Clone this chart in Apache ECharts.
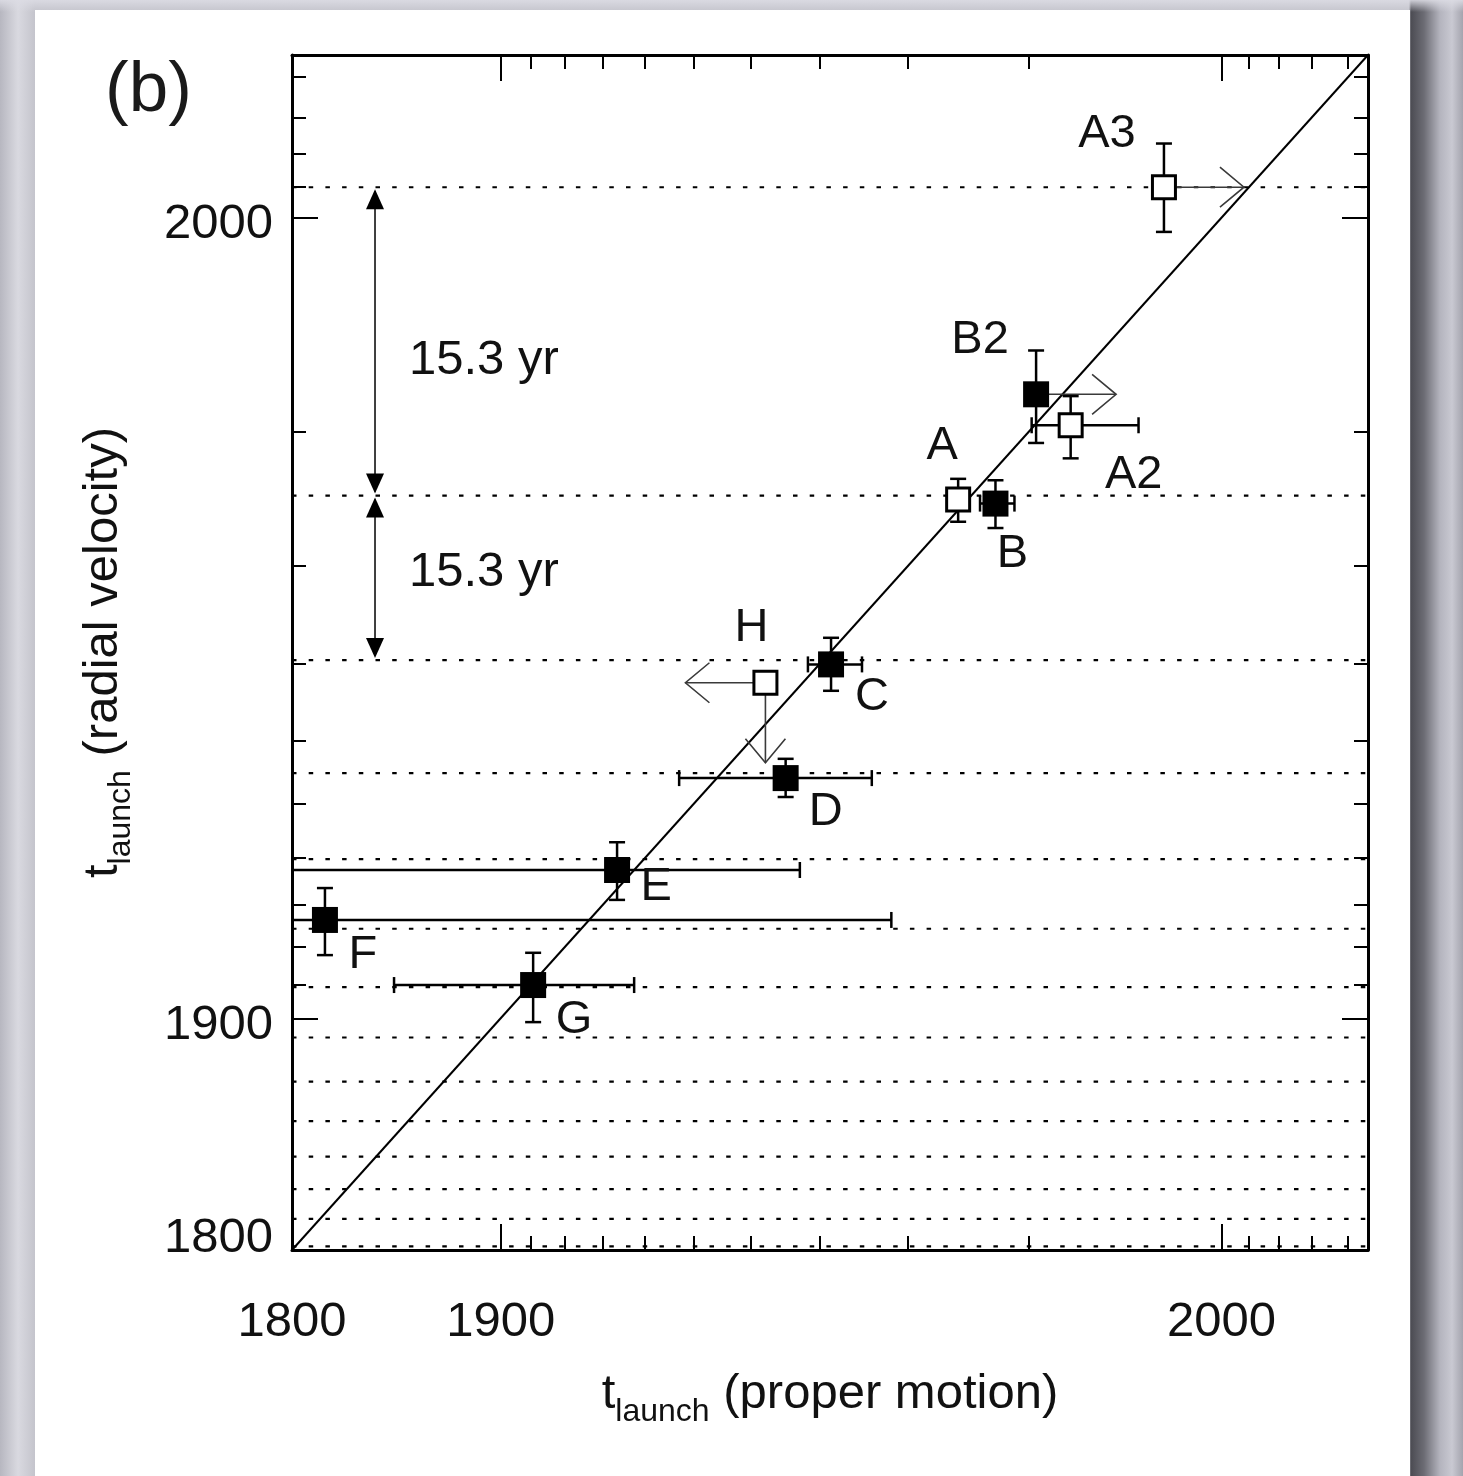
<!DOCTYPE html>
<html>
<head>
<meta charset="utf-8">
<title>t_launch comparison</title>
<script src="https://cdn.jsdelivr.net/npm/echarts@6/dist/echarts.min.js"></script>
<style>
  html, body { margin: 0; padding: 0; }
  body {
    width: 1463px; height: 1476px; overflow: hidden; position: relative;
    background:
      linear-gradient(180deg, rgba(220,220,228,0.9) 0px, rgba(205,205,214,0) 12px),
      linear-gradient(90deg, #b7b7c0 0px, #d9d9e0 18px, #c4c4cc 35px, #c4c4cc 1409px,
        #4c4c53 1411px, #6c6c74 1424px, #b4b4be 1440px, #c9c9d2 1452px, #a4a4ae 1463px);
  }
  #panel { position: absolute; left: 35px; top: 10px; width: 1375px; height: 1480px; background: #fff; }
  #chart { position: absolute; left: 0; top: 0; width: 1463px; height: 1476px; }
</style>
</head>
<body>
<div id="panel"></div>
<div id="chart"></div>
<script>
// both axes are logarithmic in age, i.e. -ln(T0 - t)
var T0 = 2012.5
function u(t) { return -Math.log(T0 - t) }

var axisRange = [1800, 2004.5]
var labelYears = [1800, 1900, 2000]
var majorTickYears = [1900, 2000]
var minorTickYears = [1910, 1920, 1930, 1940, 1950, 1960, 1970, 1980, 1990, 2001, 2002, 2003, 2004]

// knots: launch time from proper motion (x) and from radial velocity (y)
var knots = ['A3', 'B2', 'A2', 'A', 'B', 'H', 'C', 'D', 'E', 'F', 'G']
var tProper = [1997.6, 1990.5, 1992.7, 1984.6, 1987.6, 1962.3, 1971.4, 1965.3, 1933.6, 1820.3, 1910.6]
var tRadial = [2001.0, 1992.2, 1990.4, 1985.4, 1985.1, 1967.7, 1969.9, 1954.3, 1937.6, 1926.6, 1909.8]
var properLo = [null, null, 1990.2, null, 1986.4, null, 1968.4, 1947.2, 1790, 1790, 1856.8]
var properHi = [null, null, 1996.4, null, 1989.0, null, 1975.1, 1976.2, 1967.3, 1978.3, 1937.6]
var radialLo = [1999.5, 1989.3, 1988.3, 1983.7, 1983.2, null, 1966.7, 1951.2, 1931.2, 1917.9, 1898.8]
var radialHi = [2002.3, 1994.5, 1992.1, 1986.9, 1986.8, null, 1972.9, 1957.3, 1943.1, 1933.8, 1918.5]
var openSymbol = [true, false, true, true, false, true, false, false, false, false, false]
var limits = ['right', 'right', '', '', '', 'left down', '', '', '', '', '']

// periodic ejection epochs (15.3 yr apart)
var ejectionLevels = [2001.0, 1985.7, 1970.4, 1955.1, 1939.8, 1924.5, 1909.2, 1893.9,
  1878.6, 1863.3, 1848.0, 1832.7, 1817.4, 1802.1]
var periodArrows = [[2001.0, 1985.7], [1985.7, 1970.4]]
var periodText = ['15.3 yr', '15.3 yr']
var periodTextYear = [1994.0, 1979.4]
var periodArrowX = 1847.5

// label placement (pixels from the marker centre)
var labelOffset = {
  A3: [-57, -53], B2: [-56, -54], A: [-16, -54], A2: [63, 50], B: [17, 50],
  H: [-14, -55], C: [41, 33], D: [40, 34], E: [39, 17], F: [38, 35], G: [41, 35]
}

var FONT = 'Liberation Sans, Arial, Helvetica, sans-serif'
var INK = '#111'

function yearOf(v) {
  for (var i = 0; i < labelYears.length; i++) {
    if (Math.abs(u(labelYears[i]) - v) < 1e-6) return labelYears[i]
  }
  return ''
}

function makeAxis(pos, major, extra) {
  var ax = {
    type: 'value',
    position: pos,
    min: u(axisRange[0]),
    max: u(axisRange[1]),
    splitLine: { show: false },
    axisLine: { show: major, lineStyle: { color: '#000', width: 3 } },
    axisTick: {
      show: true,
      inside: true,
      length: major ? 26 : 14,
      lineStyle: { color: '#000', width: 2 },
      customValues: (major ? majorTickYears : minorTickYears).map(u)
    },
    axisLabel: { show: false },
    axisPointer: { show: false }
  }
  return Object.assign(ax, extra || {})
}

var nameRich = {
  t: { fontSize: 49, fontFamily: FONT, color: INK, verticalAlign: 'top' },
  s: { fontSize: 32, fontFamily: FONT, color: INK, verticalAlign: 'top', padding: [26, 0, 0, 0] }
}

var chart = echarts.init(document.getElementById('chart'))

chart.setOption({
  animation: false,
  title: {
    text: '(b)',
    left: 100,
    top: 51,
    textStyle: { fontSize: 71, fontWeight: 'normal', fontFamily: FONT, color: '#1a1a1a' }
  },
  grid: { left: 292, right: 95, top: 55, bottom: 226 },
  xAxis: [
    makeAxis('bottom', true, {
      axisLabel: {
        show: true,
        customValues: labelYears.map(u),
        showMinLabel: true,
        showMaxLabel: true,
        margin: 48,
        fontSize: 49,
        fontFamily: FONT,
        color: INK,
        formatter: function (v) { return String(yearOf(v)) }
      },
      name: '{t|t}{s|launch}{t| (proper motion)}',
      nameLocation: 'middle',
      nameGap: 120,
      nameTextStyle: { rich: nameRich }
    }),
    makeAxis('bottom', false),
    makeAxis('top', true),
    makeAxis('top', false)
  ],
  yAxis: [
    makeAxis('left', true, {
      axisLabel: {
        show: true,
        customValues: labelYears.map(u),
        showMinLabel: true,
        showMaxLabel: true,
        margin: 19,
        fontSize: 49,
        fontFamily: FONT,
        color: INK,
        formatter: function (v) {
          var y = yearOf(v)
          return y === axisRange[0] ? '{lo|' + y + '}' : '{n|' + y + '}'
        },
        rich: {
          n: { fontSize: 49, fontFamily: FONT, color: INK, padding: [14, 0, 0, 0] },
          lo: { fontSize: 49, fontFamily: FONT, color: INK, padding: [0, 0, 24, 0] }
        }
      },
      name: '{t|t}{s|launch}{t| (radial velocity)}',
      nameLocation: 'middle',
      nameGap: 155,
      nameTextStyle: { rich: nameRich }
    }),
    makeAxis('left', false),
    makeAxis('right', true),
    makeAxis('right', false)
  ],
  series: [
    {
      // dotted ejection epochs
      type: 'custom',
      z: 1,
      data: ejectionLevels.map(function (t) { return [u(axisRange[0]), u(t)] }),
      renderItem: function (params, api) {
        var cs = params.coordSys
        var y = api.coord([api.value(0), api.value(1)])[1]
        return {
          type: 'line',
          shape: { x1: cs.x, y1: y, x2: cs.x + cs.width, y2: y },
          style: { stroke: '#000', lineWidth: 2.2, lineDash: [4.5, 12.2] }
        }
      }
    },
    {
      // one-to-one line
      type: 'line',
      z: 2,
      data: [[u(axisRange[0]), u(axisRange[0])], [u(axisRange[1]), u(axisRange[1])]],
      showSymbol: false,
      silent: true,
      lineStyle: { color: '#000', width: 2 }
    },
    {
      // 15.3 yr double arrows
      type: 'custom',
      z: 3,
      data: periodArrows.map(function (a, i) {
        return [u(periodArrowX), u(a[0]), u(a[1]), u(periodTextYear[i]), i]
      }),
      renderItem: function (params, api) {
        var top = api.coord([api.value(0), api.value(1)])
        var bot = api.coord([api.value(0), api.value(2)])
        var ty = api.coord([api.value(0), api.value(3)])[1]
        var x = top[0]
        return {
          type: 'group',
          children: [
            { type: 'line', shape: { x1: x, y1: top[1] + 4, x2: x, y2: bot[1] - 4 },
              style: { stroke: '#000', lineWidth: 1.5 } },
            { type: 'polygon', shape: { points: [[x, top[1] + 2], [x - 9, top[1] + 22], [x + 9, top[1] + 22]] },
              style: { fill: '#000' } },
            { type: 'polygon', shape: { points: [[x, bot[1] - 2], [x - 9, bot[1] - 22], [x + 9, bot[1] - 22]] },
              style: { fill: '#000' } },
            { type: 'text', x: x + 34, y: ty,
              style: { text: periodText[api.value(4)], fontSize: 49, fontFamily: FONT, fill: INK,
                align: 'left', verticalAlign: 'middle' } }
          ]
        }
      }
    },
    {
      // knots with error bars, limit arrows and names
      type: 'custom',
      z: 5,
      clip: true,
      data: knots.map(function (k, i) { return [u(tProper[i]), u(tRadial[i]), i] }),
      renderItem: function (params, api) {
        var i = api.value(2)
        var vx = api.value(0), vy = api.value(1)
        var c = api.coord([vx, vy])
        var kids = []
        var bar = { stroke: '#000', lineWidth: 2.5 }
        var cap = 8
        if (properLo[i] != null) {
          var l = api.coord([u(properLo[i]), vy])
          var r = api.coord([u(properHi[i]), vy])
          kids.push({ type: 'line', shape: { x1: l[0], y1: c[1], x2: r[0], y2: c[1] }, style: bar })
          kids.push({ type: 'line', shape: { x1: l[0], y1: c[1] - cap, x2: l[0], y2: c[1] + cap }, style: bar })
          kids.push({ type: 'line', shape: { x1: r[0], y1: c[1] - cap, x2: r[0], y2: c[1] + cap }, style: bar })
        }
        if (radialLo[i] != null) {
          var b = api.coord([vx, u(radialLo[i])])
          var t = api.coord([vx, u(radialHi[i])])
          kids.push({ type: 'line', shape: { x1: c[0], y1: b[1], x2: c[0], y2: t[1] }, style: bar })
          kids.push({ type: 'line', shape: { x1: c[0] - cap, y1: b[1], x2: c[0] + cap, y2: b[1] }, style: bar })
          kids.push({ type: 'line', shape: { x1: c[0] - cap, y1: t[1], x2: c[0] + cap, y2: t[1] }, style: bar })
        }
        var dirs = limits[i] ? limits[i].split(' ') : []
        dirs.forEach(function (d) {
          var v = { right: [1, 0], left: [-1, 0], down: [0, 1], up: [0, -1] }[d]
          var e = [c[0] + v[0] * 80, c[1] + v[1] * 80]
          var p = [-v[1], v[0]]
          var back = [e[0] - v[0] * 24, e[1] - v[1] * 24]
          var arrowStyle = { stroke: '#3a3a3a', lineWidth: 1.6, fill: null }
          kids.push({ type: 'line', shape: { x1: c[0], y1: c[1], x2: e[0], y2: e[1] }, style: arrowStyle })
          kids.push({ type: 'polyline', shape: { points: [
            [back[0] + p[0] * 20, back[1] + p[1] * 20], e, [back[0] - p[0] * 20, back[1] - p[1] * 20]
          ] }, style: arrowStyle })
        })
        if (openSymbol[i]) {
          kids.push({ type: 'rect', shape: { x: c[0] - 11.5, y: c[1] - 11.5, width: 23, height: 23 },
            style: { fill: '#fff', stroke: '#000', lineWidth: 3 } })
        } else {
          kids.push({ type: 'rect', shape: { x: c[0] - 13, y: c[1] - 13, width: 26, height: 26 },
            style: { fill: '#000' } })
        }
        var off = labelOffset[knots[i]]
        kids.push({ type: 'text', x: c[0] + off[0], y: c[1] + off[1],
          style: { text: knots[i], fontSize: 47, fontFamily: FONT, fill: INK,
            align: 'center', verticalAlign: 'middle' } })
        return { type: 'group', children: kids }
      }
    }
  ]
})
</script>
</body>
</html>
